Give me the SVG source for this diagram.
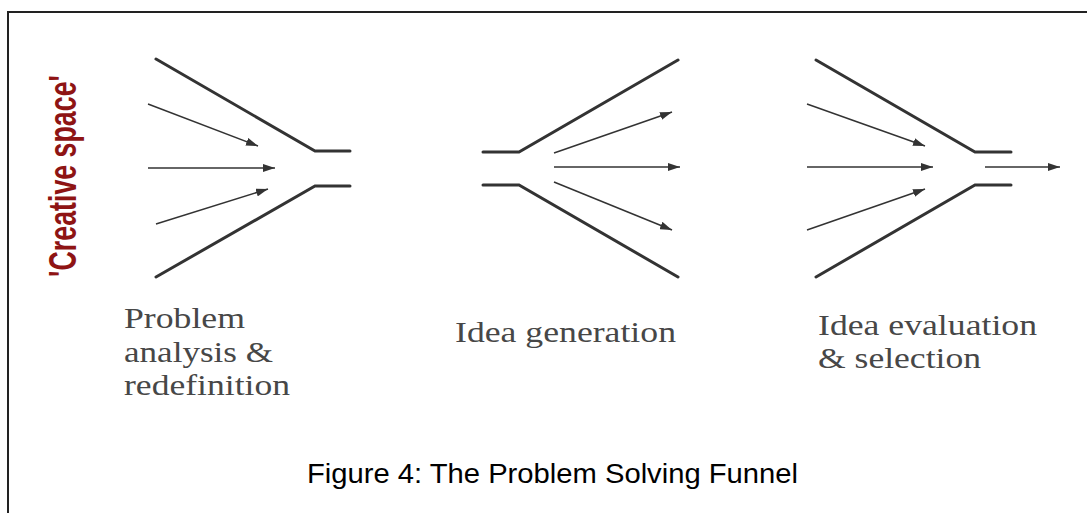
<svg xmlns="http://www.w3.org/2000/svg" width="1087" height="513" viewBox="0 0 1087 513">
  <style>
    .funnel { fill: none; stroke: #333; stroke-width: 3; stroke-linecap: round; stroke-linejoin: miter; }
    .flow { fill: none; stroke: #333; stroke-width: 1.5; marker-end: url(#head); }
    .label { font-family: "Liberation Serif", "Times New Roman", serif; font-size: 29px; fill: #474747; }
    .caption { font-family: "Liberation Sans", Arial, sans-serif; font-size: 28.5px; fill: #000; }
    .side { font-family: "Liberation Sans", Arial, sans-serif; font-weight: bold; font-size: 39px; fill: #8e1414; }
  </style>
  <defs>
    <marker id="head" viewBox="0 0 12 8" refX="12" refY="4" markerWidth="12" markerHeight="8" markerUnits="userSpaceOnUse" orient="auto">
      <path d="M0,0 L12,4 L0,8 Z" fill="#333"/>
    </marker>
  </defs>

  <rect x="0" y="0" width="1087" height="513" fill="#fff"/>
  <!-- figure frame (open to the right and bottom) -->
  <path d="M8,513 V12 H1087" fill="none" stroke="#222" stroke-width="2"/>

  <!-- side title, condensed and reading upward -->
  <g id="creative-space">
    <text class="side" transform="translate(76,176) rotate(-90) scale(0.687,1)" text-anchor="middle">'Creative space'</text>
  </g>

  <!-- stage 1: converging funnel -->
  <g id="funnel-analysis">
    <path class="funnel" d="M156,59 L315,151 H350"/>
    <path class="funnel" d="M156,277 L315,186 H350"/>
  </g>
  <!-- stage 2: diverging funnel -->
  <g id="funnel-generation">
    <path class="funnel" d="M483,152 H519 L678,60"/>
    <path class="funnel" d="M483,185 H519 L678,277"/>
  </g>
  <!-- stage 3: converging funnel -->
  <g id="funnel-evaluation">
    <path class="funnel" d="M816,60 L975,152 H1011"/>
    <path class="funnel" d="M816,277 L975,185 H1011"/>
  </g>

  <g id="connectors">
    <line class="flow" x1="148" y1="104" x2="258" y2="146"/>
    <line class="flow" x1="148" y1="168" x2="275" y2="168"/>
    <line class="flow" x1="156" y1="224" x2="268" y2="189"/>

    <line class="flow" x1="554" y1="153" x2="672" y2="112"/>
    <line class="flow" x1="554" y1="167" x2="680" y2="167"/>
    <line class="flow" x1="554" y1="182" x2="672" y2="230"/>

    <line class="flow" x1="807" y1="104" x2="925" y2="146"/>
    <line class="flow" x1="807" y1="167" x2="933" y2="167"/>
    <line class="flow" x1="807" y1="230" x2="925" y2="189"/>
    <line class="flow" x1="985" y1="167" x2="1060" y2="167"/>
  </g>

  <g id="label-analysis">
    <text class="label" x="124" y="328" textLength="121" lengthAdjust="spacingAndGlyphs">Problem</text>
    <text class="label" x="124" y="362" textLength="149" lengthAdjust="spacingAndGlyphs">analysis &amp;</text>
    <text class="label" x="124" y="395" textLength="166" lengthAdjust="spacingAndGlyphs">redefinition</text>
  </g>
  <g id="label-generation">
    <text class="label" x="455" y="342" textLength="221" lengthAdjust="spacingAndGlyphs">Idea generation</text>
  </g>
  <g id="label-evaluation">
    <text class="label" x="818" y="335" textLength="219" lengthAdjust="spacingAndGlyphs">Idea evaluation</text>
    <text class="label" x="818" y="368" textLength="163" lengthAdjust="spacingAndGlyphs">&amp; selection</text>
  </g>

  <g id="caption">
    <text class="caption" x="307" y="483" textLength="491" lengthAdjust="spacingAndGlyphs">Figure 4: The Problem Solving Funnel</text>
  </g>
</svg>
